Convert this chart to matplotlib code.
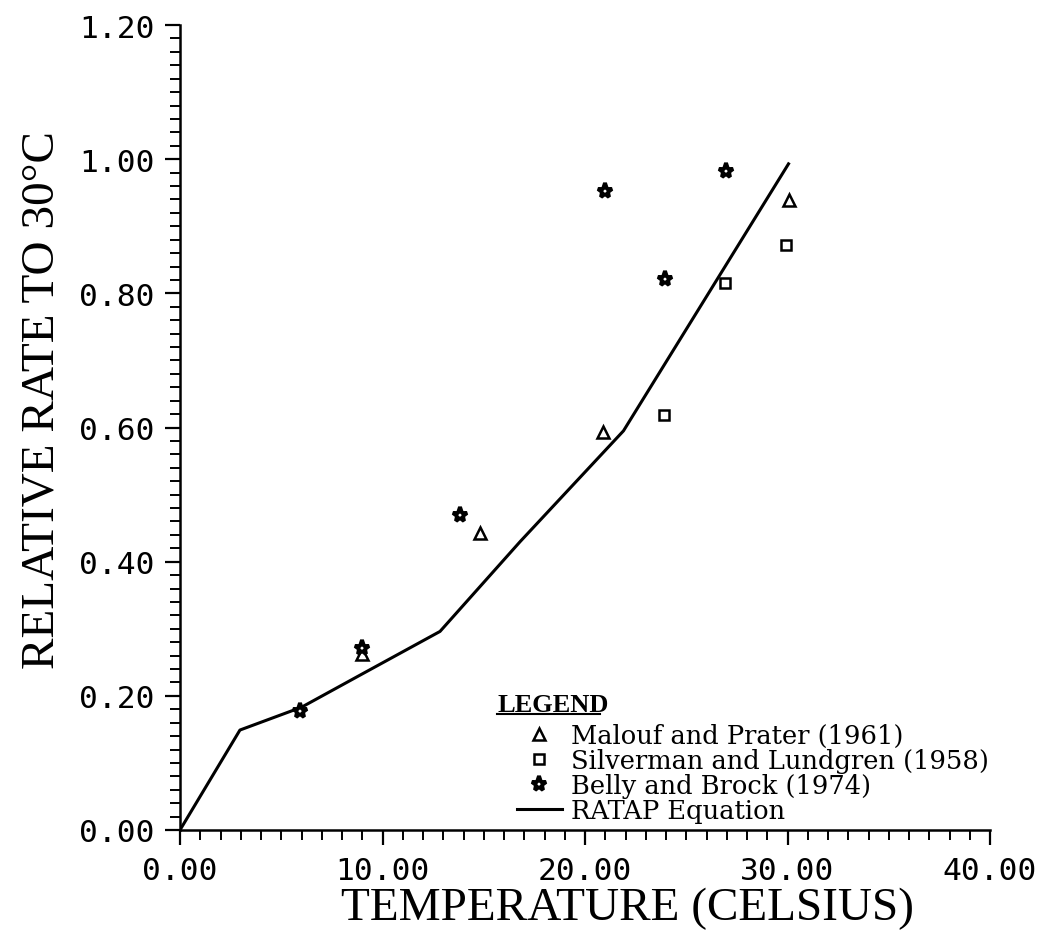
import matplotlib
matplotlib.use("Agg")
import matplotlib.pyplot as plt
import numpy as np
from matplotlib.ticker import MultipleLocator, FormatStrFormatter
from matplotlib.legend_handler import HandlerLine2D
from matplotlib.lines import Line2D

# data
malouf_t = [9.0, 14.8, 20.9, 30.05]
malouf_r = [0.262, 0.443, 0.594, 0.939]

silverman_t = [23.9, 26.9, 29.95]
silverman_r = [0.619, 0.816, 0.872]

belly_t = [5.95, 9.0, 13.85, 21.0, 23.95, 26.95]
belly_r = [0.178, 0.272, 0.469, 0.953, 0.822, 0.982]

ratap_t = [0.0, 2.96, 6.0, 8.9, 12.84, 16.8, 21.9, 30.05]
ratap_r = [0.0, 0.149, 0.183, 0.231, 0.296, 0.43, 0.595, 0.993]

labels = ["Malouf and Prater (1961)",
          "Silverman and Lundgren (1958)",
          "Belly and Brock (1974)",
          "RATAP Equation"]

tick_font = "DejaVu Sans Mono"
label_font = "Liberation Serif"
legend_font = "DejaVu Serif"


class MarkerRight(HandlerLine2D):
    # put the legend marker at the right end of the key, like the original
    def get_xdata(self, legend, xdescent, ydescent, width, height, fontsize):
        xdata, xmark = super().get_xdata(legend, xdescent, ydescent,
                                         width, height, fontsize)
        return xdata, np.array([-xdescent + 0.97 * width])


fig = plt.figure(figsize=(10.43, 9.37), dpi=100)
ax = fig.add_axes([180 / 1043, 1 - 831 / 937, 810 / 1043, 805 / 937])

line, = ax.plot(ratap_t, ratap_r, color="black", lw=2.2, solid_joinstyle="round")
tri, = ax.plot(malouf_t, malouf_r, ls="none", marker="^", ms=8,
               mfc="white", mec="black", mew=1.8)
sq, = ax.plot(silverman_t, silverman_r, ls="none", marker="s", ms=7,
              mfc="white", mec="black", mew=1.8)
star, = ax.plot(belly_t, belly_r, ls="none", marker="*", ms=11,
                mfc="white", mec="black", mew=2.8)

ax.set_xlim(0, 40)
ax.set_ylim(0, 1.2)
for s in ["top", "right"]:
    ax.spines[s].set_visible(False)
for s in ["left", "bottom"]:
    ax.spines[s].set_linewidth(1.8)

ax.xaxis.set_major_locator(MultipleLocator(10))
ax.xaxis.set_minor_locator(MultipleLocator(1))
ax.yaxis.set_major_locator(MultipleLocator(0.2))
ax.yaxis.set_minor_locator(MultipleLocator(0.02))
ax.xaxis.set_major_formatter(FormatStrFormatter("%.2f"))
ax.yaxis.set_major_formatter(FormatStrFormatter("%.2f"))

ax.tick_params(which="major", direction="out", length=10.5, width=1.6, pad=8)
ax.tick_params(which="minor", direction="out", length=7, width=1.4)
for t in ax.get_xticklabels() + ax.get_yticklabels():
    t.set_fontfamily(tick_font)
    t.set_fontsize(22.5)

ax.set_xlabel("TEMPERATURE (CELSIUS)", fontfamily=label_font, fontsize=34)
ax.set_ylabel("RELATIVE RATE TO 30°C", fontfamily=label_font, fontsize=34)
ax.xaxis.set_label_coords(0.552, -0.070)
ax.yaxis.set_label_coords(-0.144, 0.535)

leg = ax.legend([tri, sq, star, line], labels, frameon=False,
                loc="upper left", bbox_to_anchor=(337 / 810, (831 - 724) / 805),
                prop={"family": legend_font, "size": 18.5},
                handlelength=1.75, handletextpad=0.35, labelspacing=0.0,
                borderpad=0, borderaxespad=0,
                handler_map={Line2D: MarkerRight()})

fig.text(497 / 1043, 1 - 712 / 937, "LEGEND", fontfamily=label_font,
         fontweight="bold", fontsize=19, ha="left", va="baseline")
fig.add_artist(Line2D([497 / 1043, 600 / 1043], [1 - 715 / 937, 1 - 715 / 937],
                      color="black", lw=1.5))

fig.savefig("out.png", dpi=100, facecolor="white")
